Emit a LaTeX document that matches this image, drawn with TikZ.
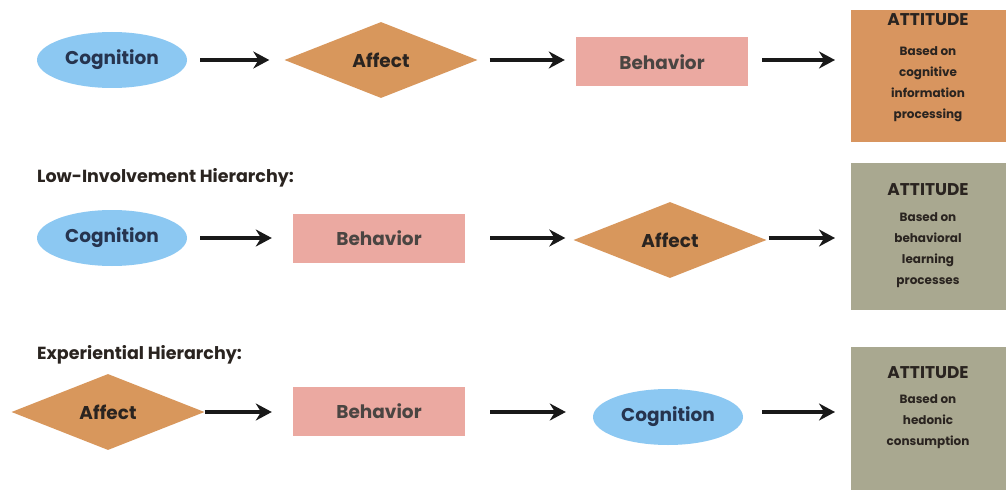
\documentclass[tikz,border=0pt]{standalone}
\usepackage{fontspec}
\setmainfont{Poppins}
\usetikzlibrary{shapes.geometric,arrows.meta}
\definecolor{cogblue}{HTML}{8CC8F2}
\definecolor{cogtext}{HTML}{26344F}
\definecolor{affor}{HTML}{D8975C}
\definecolor{behpink}{HTML}{EBA9A1}
\definecolor{attor}{HTML}{D8955F}
\definecolor{attgray}{HTML}{A9A890}
\definecolor{ink}{HTML}{2A2420}
\tikzset{
  cogn/.style={ellipse, fill=cogblue, minimum width=150pt, minimum height=56pt, inner sep=0pt,
    text=cogtext, font=\fontsize{18.5}{22}\selectfont\bfseries},
  affc/.style={diamond, fill=affor, minimum width=193pt, minimum height=76pt, inner sep=0pt,
    text=ink, font=\fontsize{18.5}{22}\selectfont\bfseries},
  behv/.style={rectangle, fill=behpink, minimum width=172pt, minimum height=49pt, inner sep=0pt,
    text=ink!85, font=\fontsize{18.5}{22}\selectfont\bfseries},
  attbox/.style={rectangle, minimum width=156pt, inner sep=0pt, anchor=north west},
  atttitle/.style={anchor=north, inner sep=0pt, text=ink, font=\fontsize{17}{20}\selectfont\bfseries},
  attnote/.style={anchor=north, inner sep=0pt, text=ink, align=center, font=\fontsize{12}{21}\selectfont\bfseries},
  heading/.style={anchor=west, inner sep=0pt, text=ink, font=\fontsize{17.5}{21}\selectfont\bfseries},
  flow/.style={line width=3.6pt, -{Stealth[length=16pt,width=17pt]}, draw=black!90},
}
\begin{document}
\begin{tikzpicture}[x=1pt,y=-1pt]
\useasboundingbox (0,0) rectangle (1006,492);
\fill[white] (0,0) rectangle (1006,492);

% row 1: standard learning hierarchy
\node[cogn] (c1) at (112,60) {Cognition};
\node[affc] (a1) at (381,60) {Affect};
\node[behv] (b1) at (662,62) {Behavior};
\node[attbox, fill=attor, minimum height=132pt] (t1) at (851,10) {};
\node[atttitle] (t1h) at (928,13) {ATTITUDE};
\node[attnote] (t1n) at (928,46) {Based on\\cognitive\\information\\processing};
\draw[flow, shorten <=13pt, shorten >=15pt] (c1.east) -- (a1.west);
\draw[flow, shorten <=12pt, shorten >=11pt] (a1.east) -- (a1.east -| b1.west);
\draw[flow, shorten <=14pt, shorten >=16pt] (b1.east |- a1.east) -- (a1.east -| t1.west);

% row 2: low-involvement hierarchy
\node[heading] (h2) at (37,178) {Low-Involvement Hierarchy:};
\node[cogn] (c2) at (112,238) {Cognition};
\node[behv] (b2) at (379,238) {Behavior};
\node[affc] (a2) at (670,240) {Affect};
\node[attbox, fill=attgray, minimum height=147pt] (t2) at (851,163) {};
\node[atttitle] (t2h) at (928,183) {ATTITUDE};
\node[attnote] (t2n) at (928,212) {Based on\\behavioral\\learning\\processes};
\draw[flow, shorten <=13pt, shorten >=21pt] (c2.east) -- (b2.west);
\draw[flow, shorten <=25pt, shorten >=8pt] (b2.east) -- (b2.east -| a2.west);
\draw[flow, shorten <=2pt, shorten >=16pt] (a2.east |- b2.east) -- (b2.east -| t2.west);

% row 3: experiential hierarchy
\node[heading] (h3) at (37,355) {Experiential Hierarchy:};
\node[affc] (a3) at (108,412) {Affect};
\node[behv] (b3) at (379,411) {Behavior};
\node[cogn] (c3) at (668,417) {Cognition};
\node[attbox, fill=attgray, minimum height=143pt] (t3) at (851,347) {};
\node[atttitle] (t3h) at (928,366) {ATTITUDE};
\node[attnote] (t3n) at (928,394) {Based on\\hedonic\\consumption};
\draw[flow, shorten >=21pt] (a3.east) -- (a3.east -| b3.west);
\draw[flow, shorten <=25pt, shorten >=27pt] (b3.east |- a3.east) -- (a3.east -| c3.west);
\draw[flow, shorten <=19pt, shorten >=16pt] (c3.east |- a3.east) -- (a3.east -| t3.west);
\end{tikzpicture}
\end{document}
